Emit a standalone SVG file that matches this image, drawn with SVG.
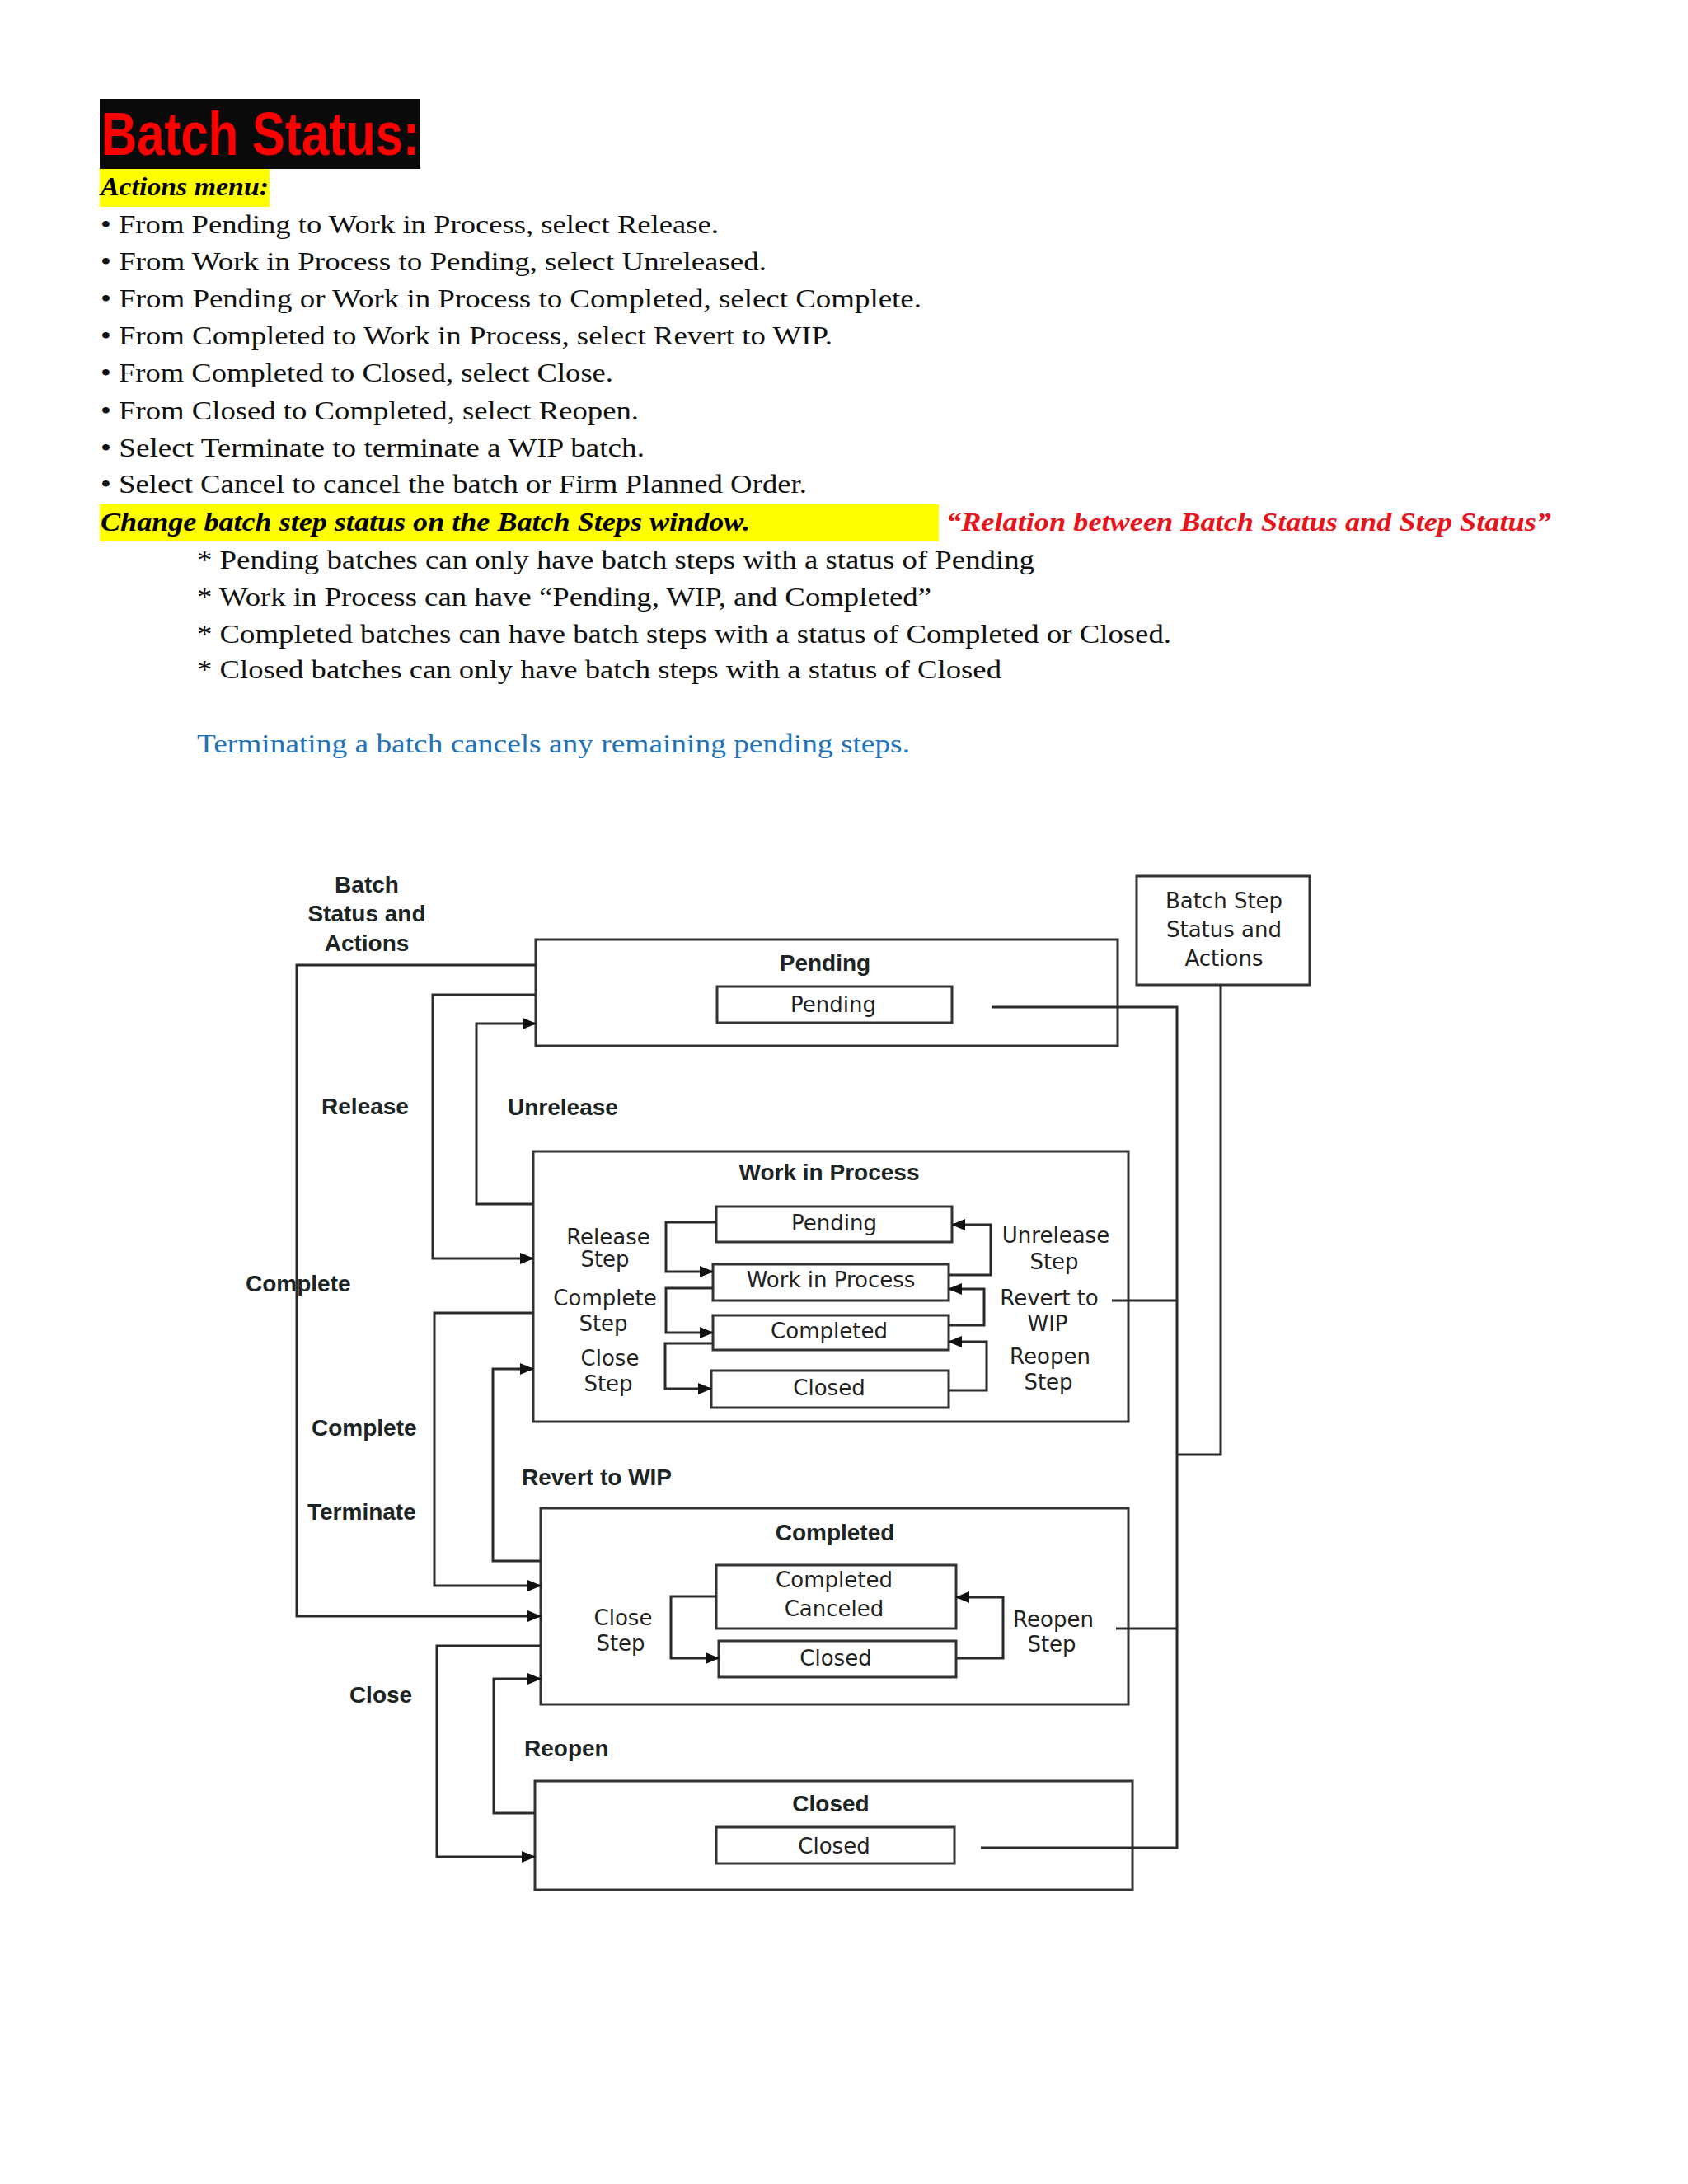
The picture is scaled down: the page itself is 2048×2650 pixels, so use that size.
<svg xmlns="http://www.w3.org/2000/svg" width="2048" height="2650" viewBox="0 0 2048 2650">
<style>
.ser{font-family:"Liberation Serif","Times New Roman",serif;font-size:31px;fill:#111}
.hd{font-family:"Liberation Serif","Times New Roman",serif;font-size:31px;font-style:italic;font-weight:bold}
.b{font-family:"Liberation Sans",Arial,sans-serif;font-size:28px;font-weight:bold;fill:#1c2424}
.r{font-family:"DejaVu Sans","Liberation Sans",sans-serif;font-size:26px;fill:#222}
.box{fill:none;stroke:#333;stroke-width:3}
.ln{fill:none;stroke:#2a2a2a;stroke-width:3}
.ar{fill:none;stroke:#2a2a2a;stroke-width:3;marker-end:url(#ah)}
</style>
<defs>
<marker id="ah" markerWidth="17" markerHeight="16" refX="16" refY="8" orient="auto" markerUnits="userSpaceOnUse">
<path d="M0,1 L17,8 L0,15 z" fill="#111"/>
</marker>
</defs>
<rect x="0" y="0" width="2048" height="2650" fill="#ffffff"/>

<g id="text-section">
<rect x="121" y="120" width="389" height="85" fill="#0a0a0a"/>
<text x="123" y="188" font-family="Liberation Sans,Arial,sans-serif" font-size="74" font-weight="bold" fill="#ff0000" textLength="386" lengthAdjust="spacingAndGlyphs">Batch Status:</text>
<rect x="121" y="205" width="206" height="46" fill="#ffff00"/>
<text class="hd" x="122" y="237" fill="#000" textLength="204" lengthAdjust="spacingAndGlyphs">Actions menu:</text>
<text class="ser" x="122" y="283" textLength="750" lengthAdjust="spacingAndGlyphs">• From Pending to Work in Process, select Release.</text>
<text class="ser" x="122" y="328" textLength="808" lengthAdjust="spacingAndGlyphs">• From Work in Process to Pending, select Unreleased.</text>
<text class="ser" x="122" y="373" textLength="996" lengthAdjust="spacingAndGlyphs">• From Pending or Work in Process to Completed, select Complete.</text>
<text class="ser" x="122" y="418" textLength="888" lengthAdjust="spacingAndGlyphs">• From Completed to Work in Process, select Revert to WIP.</text>
<text class="ser" x="122" y="463" textLength="622" lengthAdjust="spacingAndGlyphs">• From Completed to Closed, select Close.</text>
<text class="ser" x="122" y="509" textLength="653" lengthAdjust="spacingAndGlyphs">• From Closed to Completed, select Reopen.</text>
<text class="ser" x="122" y="554" textLength="660" lengthAdjust="spacingAndGlyphs">• Select Terminate to terminate a WIP batch.</text>
<text class="ser" x="122" y="598" textLength="857" lengthAdjust="spacingAndGlyphs">• Select Cancel to cancel the batch or Firm Planned Order.</text>
<rect x="121" y="612" width="1018" height="45" fill="#ffff00"/>
<text class="hd" x="122" y="644" fill="#000" textLength="788" lengthAdjust="spacingAndGlyphs">Change batch step status on the Batch Steps window.</text>
<text class="hd" x="1148" y="644" fill="#e8141b" textLength="734" lengthAdjust="spacingAndGlyphs">“Relation between Batch Status and Step Status”</text>
<text class="ser" x="239" y="690" textLength="1016" lengthAdjust="spacingAndGlyphs">* Pending batches can only have batch steps with a status of Pending</text>
<text class="ser" x="239" y="735" textLength="891" lengthAdjust="spacingAndGlyphs">* Work in Process can have “Pending, WIP, and Completed”</text>
<text class="ser" x="239" y="780" textLength="1182" lengthAdjust="spacingAndGlyphs">* Completed batches can have batch steps with a status of Completed or Closed.</text>
<text class="ser" x="239" y="823" textLength="976" lengthAdjust="spacingAndGlyphs">* Closed batches can only have batch steps with a status of Closed</text>
<text class="ser" x="239" y="913" style="fill:#2272b8" textLength="865" lengthAdjust="spacingAndGlyphs">Terminating a batch cancels any remaining pending steps.</text>
</g>

<g id="label-batch-status">
<text class="b" x="445" y="1083" text-anchor="middle">Batch</text>
<text class="b" x="445" y="1118" text-anchor="middle">Status and</text>
<text class="b" x="445" y="1154" text-anchor="middle">Actions</text>
</g>

<g id="node-batch-step">
<rect class="box" x="1379" y="1063" width="210" height="132"/>
<text class="r" x="1485" y="1102" text-anchor="middle" font-size="28">Batch Step</text>
<text class="r" x="1485" y="1137" text-anchor="middle" font-size="28">Status and</text>
<text class="r" x="1485" y="1172" text-anchor="middle" font-size="28">Actions</text>
</g>

<g id="node-pending">
<rect class="box" x="650" y="1140" width="706" height="129"/>
<text class="b" x="1001" y="1178" text-anchor="middle">Pending</text>
<rect class="box" x="870" y="1197" width="285" height="44"/>
<text class="r" x="1011" y="1228" text-anchor="middle">Pending</text>
</g>

<g id="node-wip">
<rect class="box" x="647" y="1397" width="722" height="328"/>
<text class="b" x="1006" y="1432" text-anchor="middle">Work in Process</text>
<rect class="box" x="869" y="1464" width="286" height="43"/>
<text class="r" x="1012" y="1493" text-anchor="middle">Pending</text>
<rect class="box" x="865" y="1534" width="286" height="44"/>
<text class="r" x="1008" y="1562" text-anchor="middle">Work in Process</text>
<rect class="box" x="865" y="1596" width="286" height="42"/>
<text class="r" x="1006" y="1624" text-anchor="middle">Completed</text>
<rect class="box" x="863" y="1663" width="288" height="45"/>
<text class="r" x="1006" y="1693" text-anchor="middle">Closed</text>
<text class="r" x="738" y="1510" text-anchor="middle">Release</text>
<text class="r" x="734" y="1537" text-anchor="middle">Step</text>
<text class="r" x="734" y="1584" text-anchor="middle">Complete</text>
<text class="r" x="732" y="1615" text-anchor="middle">Step</text>
<text class="r" x="740" y="1657" text-anchor="middle">Close</text>
<text class="r" x="738" y="1688" text-anchor="middle">Step</text>
<text class="r" x="1281" y="1508" text-anchor="middle">Unrelease</text>
<text class="r" x="1279" y="1540" text-anchor="middle">Step</text>
<text class="r" x="1273" y="1584" text-anchor="middle">Revert to</text>
<text class="r" x="1271" y="1615" text-anchor="middle">WIP</text>
<text class="r" x="1274" y="1655" text-anchor="middle">Reopen</text>
<text class="r" x="1272" y="1686" text-anchor="middle">Step</text>
</g>

<g id="node-completed">
<rect class="box" x="656" y="1830" width="713" height="238"/>
<text class="b" x="1013" y="1869" text-anchor="middle">Completed</text>
<rect class="box" x="869" y="1899" width="291" height="77"/>
<text class="r" x="1012" y="1926" text-anchor="middle">Completed</text>
<text class="r" x="1012" y="1961" text-anchor="middle">Canceled</text>
<rect class="box" x="872" y="1991" width="288" height="44"/>
<text class="r" x="1014" y="2021" text-anchor="middle">Closed</text>
<text class="r" x="756" y="1972" text-anchor="middle">Close</text>
<text class="r" x="753" y="2003" text-anchor="middle">Step</text>
<text class="r" x="1278" y="1974" text-anchor="middle">Reopen</text>
<text class="r" x="1276" y="2004" text-anchor="middle">Step</text>
</g>

<g id="node-closed">
<rect class="box" x="649" y="2161" width="725" height="132"/>
<text class="b" x="1008" y="2198" text-anchor="middle">Closed</text>
<rect class="box" x="869" y="2217" width="289" height="44"/>
<text class="r" x="1012" y="2249" text-anchor="middle">Closed</text>
</g>

<g id="connectors">
<path class="ar" d="M650,1171 H360 V1961 H656"/>
<path class="ar" d="M650,1207 H525 V1527 H647"/>
<path class="ar" d="M647,1461 H578 V1242 H650"/>
<path class="ar" d="M647,1593 H527 V1924 H656"/>
<path class="ar" d="M656,1894 H598 V1661 H647"/>
<path class="ar" d="M656,1997 H530 V2253 H649"/>
<path class="ar" d="M649,2200 H599 V2037 H656"/>
<path class="ln" d="M1203,1222 H1428 V2242 H1190"/>
<path class="ln" d="M1349,1578 H1428"/>
<path class="ln" d="M1354,1976 H1428"/>
<path class="ln" d="M1481,1195 V1765 H1428"/>
<path class="ar" d="M869,1483 H808 V1543 H865"/>
<path class="ar" d="M865,1563 H808 V1617 H865"/>
<path class="ar" d="M865,1630 H807 V1685 H863"/>
<path class="ar" d="M1151,1547 H1202 V1486 H1155"/>
<path class="ar" d="M1151,1608 H1194 V1564 H1151"/>
<path class="ar" d="M1151,1687 H1197 V1628 H1151"/>
<path class="ar" d="M869,1937 H814 V2012 H872"/>
<path class="ar" d="M1160,2012 H1217 V1938 H1160"/>
</g>

<g id="edge-labels">
<text class="b" x="443" y="1352" text-anchor="middle">Release</text>
<text class="b" x="616" y="1353">Unrelease</text>
<text class="b" x="298" y="1567">Complete</text>
<text class="b" x="378" y="1742">Complete</text>
<text class="b" x="633" y="1802">Revert to WIP</text>
<text class="b" x="373" y="1844">Terminate</text>
<text class="b" x="462" y="2066" text-anchor="middle">Close</text>
<text class="b" x="636" y="2131">Reopen</text>
</g>
</svg>
